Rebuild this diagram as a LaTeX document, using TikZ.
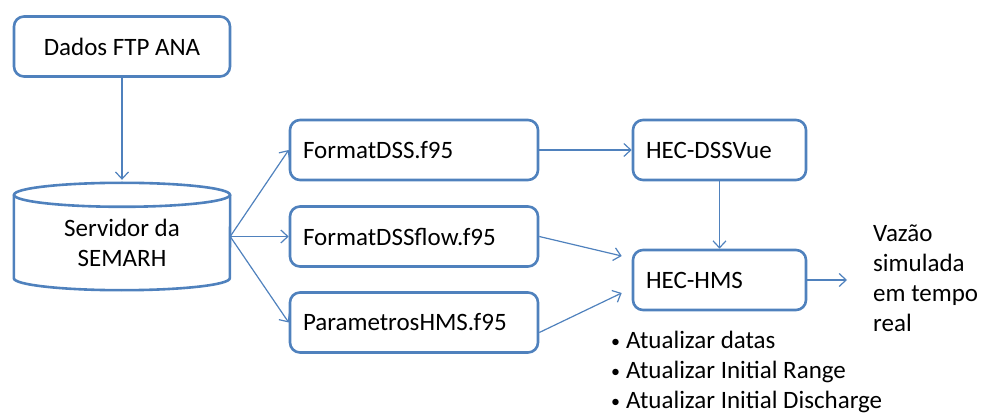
\documentclass[tikz,border=0pt]{standalone}
\usepackage{fontspec}
\setmainfont{Carlito}
\usepackage{xcolor}
\usepackage{tikz}
\usetikzlibrary{arrows.meta,positioning}
\definecolor{lineblue}{HTML}{4F81BD}
\newcommand{\bul}{\makebox[15pt][l]{\raisebox{1.5pt}{\fontsize{18}{30}\selectfont•}}}

\begin{document}
\begin{tikzpicture}[x=1pt,y=-1pt,>={Straight Barb[length=7pt,width=13pt]},
    font=\fontsize{25}{30}\selectfont,
    box/.style={draw=lineblue,line width=2.6pt,rounded corners=10pt,minimum height=60pt,inner xsep=13pt,align=left},
    link/.style={->,draw=lineblue,line width=1.2pt},
    cyl/.style={draw=lineblue,line width=2.6pt}]
  \useasboundingbox (0,0) rectangle (983,414);
  \node[box,minimum width=216pt,align=center] (dados) at (122,46.5) {Dados FTP ANA};
  % banco de dados
  \node[minimum width=216pt,minimum height=107pt,inner sep=0pt] (servidor) at (122,236.5) {};
  \draw[cyl] ([yshift=-12pt]servidor.north west) -- ([yshift=12pt]servidor.south west)
    arc[start angle=180,end angle=360,x radius=108pt,y radius=12pt]
    -- ([yshift=-12pt]servidor.north east);
  \draw[cyl] ([yshift=-12pt]servidor.north) ellipse[x radius=108pt,y radius=12pt];
  \node[align=center,inner sep=0pt] (servtxt) at ([yshift=-6pt]servidor.center) {Servidor da\\SEMARH};
  \node[box,text width=222pt] (fdss) at (414,150) {FormatDSS.f95};
  \node[box,text width=222pt] (fflow) at (414,236.5) {FormatDSSflow.f95};
  \node[box,text width=222pt] (param) at (414,322.5) {ParametrosHMS.f95};
  \node[box,text width=147pt] (dssvue) at (719.5,150) {HEC-DSSVue};
  \node[box,text width=147pt] (hms) at (719.5,280) {HEC-HMS};
  \node[align=left,anchor=west,inner sep=0pt] (vazao) at (873,278) {Vazão\\simulada\\em tempo\\real};
  \node[align=left,anchor=north west,inner sep=0pt] (tarefas) at (611,331)
    {\bul Atualizar datas\\\bul Atualizar Initial Range\\\bul Atualizar Initial Discharge};

  \draw[link] (dados.south) -- ([yshift=3pt]servidor.north);
  \foreach \b in {fdss,fflow,param}
    \draw[link] (servidor.east) -- (\b.west);
  \draw[link] (fdss.east) -- (dssvue.west);
  \draw[link] (dssvue.south) -- (hms.north);
  \draw[link] (fflow.east) -- ([xshift=-10pt,yshift=24pt]hms.west);
  \draw[link] ([yshift=-10pt]param.east) -- ([xshift=-10pt,yshift=-13pt]hms.west);
  \draw[link] (hms.east) -- ([xshift=-26pt]vazao.west |- hms.east);
\end{tikzpicture}
\end{document}
